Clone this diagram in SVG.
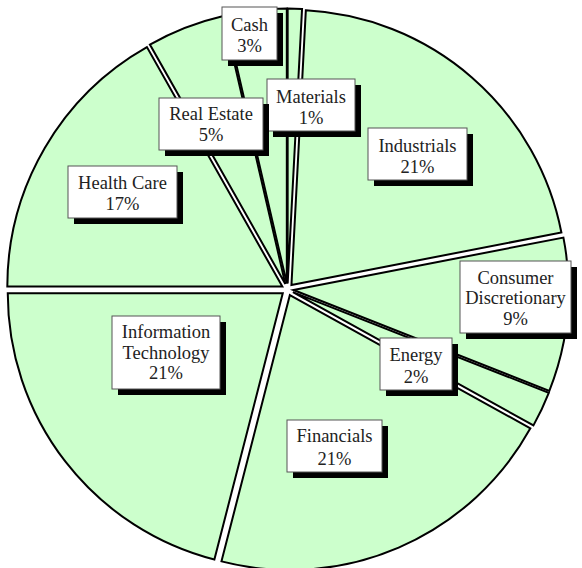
<svg xmlns="http://www.w3.org/2000/svg" width="582" height="568" viewBox="0 0 582 568">
<style>
.s{fill:#ccffcc;stroke:#000;stroke-width:2}
.b{fill:#fff;stroke:#555;stroke-width:1}
.sh{fill:#000}
.t{font-family:"Liberation Serif","Times New Roman",serif;font-size:18.5px;fill:#222;text-anchor:middle}
</style>
<rect width="582" height="568" fill="#fff"/>
<g id="slices">
<path id="s-materials" class="s" d="M287.66,283.50 L287.66,8.50 A275,275 0 0 1 302.05,8.88 Z"/>
<path id="s-industrials" class="s" d="M291.44,284.97 L305.83,10.35 A275,275 0 0 1 561.39,232.50 Z"/>
<path id="s-consumer" class="s" d="M293.47,290.05 L563.42,237.58 A275,275 0 0 1 549.34,390.84 Z"/>
<path id="s-energy" class="s" d="M292.93,292.06 L548.80,392.85 A275,275 0 0 1 533.45,425.38 Z"/>
<path id="s-financials" class="s" d="M289.87,295.01 L530.39,428.33 A275,275 0 0 1 221.48,561.37 Z"/>
<path id="s-it" class="s" d="M282.76,293.18 L214.37,559.54 A275,275 0 0 1 7.76,293.18 Z"/>
<path id="s-health" class="s" d="M282.32,286.48 L7.32,286.48 A275,275 0 0 1 146.90,47.13 Z"/>
<path id="s-realestate" class="s" d="M285.33,283.91 L149.91,44.56 A275,275 0 0 1 223.47,15.96 Z"/>
<path id="s-cash" class="s" d="M286.82,283.54 L224.96,15.59 A275,275 0 0 1 286.82,8.54 Z"/>
</g>
<g id="connectors"></g>
<g id="label-cash">
<rect class="sh" x="228" y="13" width="55" height="53"/>
<rect class="b" x="222" y="7" width="55" height="53"/>
<text class="t" x="249.5" y="30.5">Cash</text><text class="t" x="249.5" y="52">3%</text>
</g>
<g id="label-materials">
<rect class="sh" x="273" y="85" width="88" height="52"/>
<rect class="b" x="267" y="79" width="88" height="52"/>
<text class="t" x="311" y="102.5">Materials</text><text class="t" x="311" y="124">1%</text>
</g>
<g id="label-industrials">
<rect class="sh" x="374" y="134" width="99" height="52"/>
<rect class="b" x="368" y="128" width="99" height="52"/>
<text class="t" x="417.5" y="151.5">Industrials</text><text class="t" x="417.5" y="173">21%</text>
</g>
<g id="label-consumer">
<rect class="sh" x="466" y="267" width="111" height="72"/>
<rect class="b" x="460" y="261" width="111" height="72"/>
<text class="t" x="515.5" y="283.5">Consumer</text><text class="t" x="515.5" y="304">Discretionary</text><text class="t" x="515.5" y="324.5">9%</text>
</g>
<g id="label-energy">
<rect class="sh" x="386" y="344" width="72" height="52"/>
<rect class="b" x="380" y="338" width="72" height="52"/>
<text class="t" x="416" y="361">Energy</text><text class="t" x="416" y="382.5">2%</text>
</g>
<g id="label-financials">
<rect class="sh" x="293" y="426" width="95" height="52"/>
<rect class="b" x="287" y="420" width="95" height="52"/>
<text class="t" x="334.5" y="442">Financials</text><text class="t" x="334.5" y="464.5">21%</text>
</g>
<g id="label-it">
<rect class="sh" x="118" y="322" width="108" height="73"/>
<rect class="b" x="112" y="316" width="108" height="73"/>
<text class="t" x="166" y="338">Information</text><text class="t" x="166" y="358.5">Technology</text><text class="t" x="166" y="379">21%</text>
</g>
<g id="label-health">
<rect class="sh" x="74" y="172" width="109" height="52"/>
<rect class="b" x="68" y="166" width="109" height="52"/>
<text class="t" x="122.5" y="188.5">Health Care</text><text class="t" x="122.5" y="210">17%</text>
</g>
<g id="label-realestate">
<rect class="sh" x="165" y="104" width="104" height="52"/>
<rect class="b" x="159" y="98" width="104" height="52"/>
<text class="t" x="211" y="119.5">Real Estate</text><text class="t" x="211" y="141">5%</text>
</g>
</svg>
